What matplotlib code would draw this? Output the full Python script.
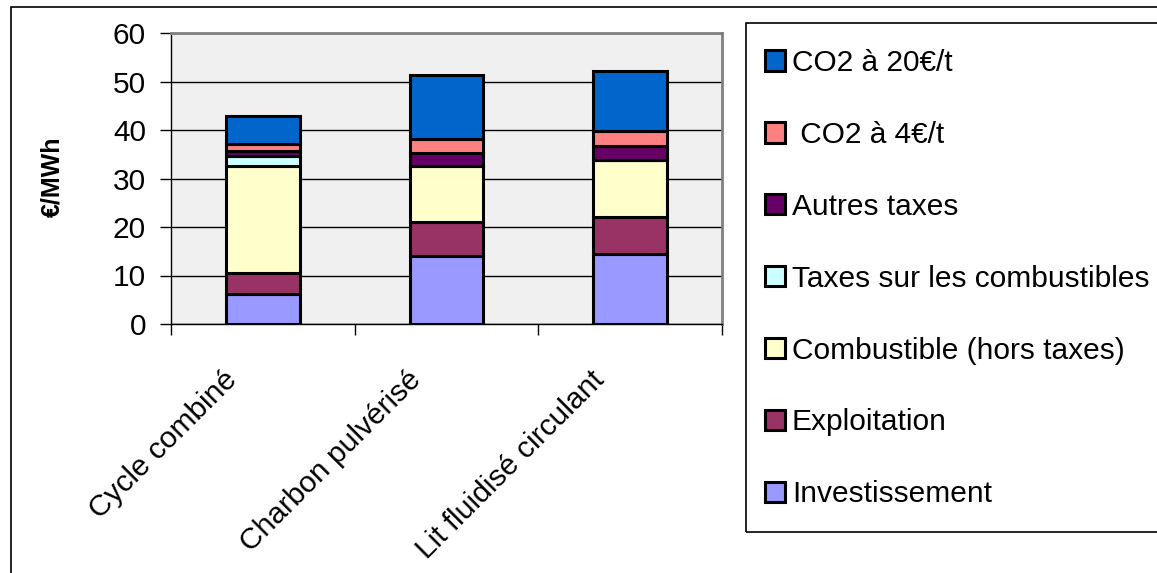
import matplotlib.pyplot as plt
import numpy as np
from matplotlib.patches import Rectangle, Patch
from matplotlib.transforms import ScaledTranslation

plt.rcParams['font.family'] = ['Liberation Sans', 'DejaVu Sans']

# Data (EUR/MWh), bottom to top
filieres = ['Cycle combiné', 'Charbon pulvérisé', 'Lit fluidisé circulant']
investissement = [6.1, 14.1, 14.4]
exploitation = [4.4, 7.0, 7.7]
combustible = [22.0, 11.4, 11.8]
taxes_comb = [2.1, 0.0, 0.0]
autres_taxes = [1.1, 2.8, 2.8]
co2_4 = [1.5, 2.9, 3.1]
co2_20 = [5.7, 13.1, 12.4]

series = [
    ('Investissement', investissement, '#9999FF'),
    ('Exploitation', exploitation, '#993366'),
    ('Combustible (hors taxes)', combustible, '#FFFFCC'),
    ('Taxes sur les combustibles', taxes_comb, '#CCFFFF'),
    ('Autres taxes', autres_taxes, '#660066'),
    (' CO2 à 4€/t', co2_4, '#FF8080'),
    ('CO2 à 20€/t', co2_20, '#0066CC'),
]

FS = 21.5
W, H = 1157, 573
fig = plt.figure(figsize=(W / 100, H / 100), dpi=100)

# outer chart border (only left and top visible)
fig.patches.append(Rectangle((11 / W, -0.2), 1.5, 1.2 - 7 / H, transform=fig.transFigure,
                             fill=False, edgecolor='black', linewidth=1.2))

ax = fig.add_axes([171 / W, 1 - 324 / H, (722 - 171) / W, (324 - 33) / H])
ax.set_facecolor('#F0F0F0')

x = np.arange(len(filieres))
bottom = np.zeros(len(filieres))
handles = []
for label, vals, color in series:
    vals = np.array(vals)
    ax.bar(x, vals, width=0.4, bottom=bottom, color=color, edgecolor='black',
           linewidth=2.2, zorder=3)
    bottom += vals
    handles.append(Patch(facecolor=color, edgecolor='black', linewidth=2.2, label=label))

ax.set_xlim(-0.5, 2.5)
ax.set_ylim(0, 60)
ax.set_yticks(range(0, 61, 10))
ax.yaxis.grid(True, color='black', linewidth=1.0, zorder=1)
ax.set_axisbelow(True)

ax.tick_params(axis='y', direction='out', length=8, width=1, labelsize=FS, pad=10)
ax.set_xticks(x)
ax.set_xticklabels(filieres, rotation=45, ha='right', fontsize=FS)
ax.tick_params(axis='x', which='major', length=0, pad=30)
ax.set_xticks([-0.5, 0.5, 1.5, 2.5], minor=True)
ax.tick_params(axis='x', which='minor', direction='out', length=8, width=1)
for lbl in ax.get_xticklabels():
    lbl.set_transform(lbl.get_transform() + ScaledTranslation(-20 / 100, 0, fig.dpi_scale_trans))

for side in ['top', 'right']:
    ax.spines[side].set_color('#808080')
    ax.spines[side].set_linewidth(2)
for side in ['left', 'bottom']:
    ax.spines[side].set_color('black')
    ax.spines[side].set_linewidth(1)

fig.text(52 / W, 1 - 177 / H, '€/MWh', rotation=90, fontsize=18, fontweight='bold',
         ha='center', va='center')

# legend frame
fig.patches.append(Rectangle((746 / W, 1 - 532 / H), 1.0, (532 - 23) / H,
                             transform=fig.transFigure, fill=False,
                             edgecolor='black', linewidth=1.2))
fig.legend(handles=handles[::-1], loc='upper left',
           bbox_to_anchor=(765 / W, 1 - 49 / H), frameon=False, fontsize=FS,
           handlelength=0.67, handleheight=0.67, handletextpad=0.23,
           labelspacing=1.47, borderaxespad=0, borderpad=0)

fig.savefig('out.png', dpi=100, facecolor='white')
